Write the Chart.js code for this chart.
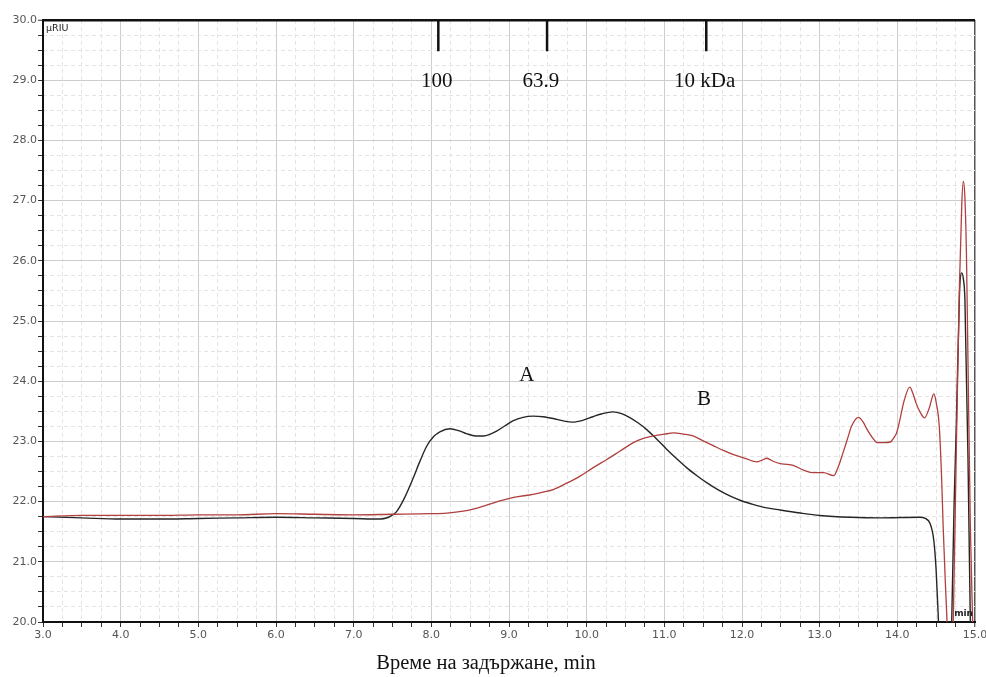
<!DOCTYPE html>
<html>
<head>
<meta charset="utf-8">
<script src="https://cdn.jsdelivr.net/npm/chart.js@4.4.1/dist/chart.umd.min.js"></script>
<style>
html,body{margin:0;padding:0;background:#fff;}
#wrap{position:relative;width:986px;height:677px;}
</style>
</head>
<body>
<div id="wrap"><canvas id="c" width="986" height="677"></canvas></div>
<script>
// ---- data ----
const xTicksMajor = [3,4,5,6,7,8,9,10,11,12,13,14,15];
const yTicksMajor = [20,21,22,23,24,25,26,27,28,29,30];

const timeA = [3.0,3.5,4.0,4.5,5.0,5.5,6.0,6.5,7.0,7.3,7.45,7.55,7.65,7.76,7.85,7.94,8.03,8.11,8.24,8.35,8.45,8.57,8.67,8.76,8.84,8.95,9.05,9.18,9.31,9.44,9.57,9.70,9.82,9.95,10.08,10.20,10.34,10.45,10.55,10.66,10.77,10.90,11.03,11.16,11.29,11.42,11.55,11.70,11.85,12.0,12.15,12.3,12.49,12.75,13.0,13.4,13.78,14.29,14.36,14.42,14.47,14.50,14.53,14.58,14.63,14.67,14.70,14.73,14.76,14.80,14.83,14.85,14.87,14.91,14.94,14.97,15.0];
const signalA = [21.75,21.73,21.71,21.71,21.72,21.73,21.74,21.73,21.72,21.71,21.74,21.83,22.05,22.37,22.66,22.92,23.08,23.16,23.21,23.18,23.13,23.09,23.09,23.12,23.17,23.26,23.34,23.40,23.42,23.41,23.38,23.34,23.32,23.35,23.41,23.46,23.49,23.46,23.40,23.31,23.20,23.04,22.87,22.71,22.56,22.43,22.31,22.19,22.09,22.01,21.95,21.90,21.86,21.81,21.77,21.74,21.73,21.74,21.72,21.64,21.35,20.85,20.0,18.5,18.2,18.8,20.0,21.9,23.3,25.45,25.80,25.70,25.36,22.70,20.0,18.5,18.0];

const timeB = [3.0,3.5,4.0,4.5,5.0,5.5,6.0,6.5,7.0,7.5,7.98,8.2,8.41,8.55,8.71,8.88,9.06,9.31,9.45,9.57,9.75,9.91,10.08,10.26,10.43,10.60,10.73,10.86,11.0,11.12,11.25,11.37,11.50,11.63,11.76,11.89,12.04,12.19,12.26,12.32,12.40,12.49,12.58,12.66,12.80,12.92,13.05,13.18,13.24,13.30,13.36,13.41,13.50,13.56,13.61,13.68,13.74,13.82,13.91,13.96,13.99,14.04,14.08,14.16,14.20,14.24,14.30,14.35,14.41,14.47,14.50,14.54,14.57,14.59,14.62,14.64,14.68,14.72,14.76,14.80,14.83,14.85,14.87,14.89,14.91,14.94,14.97,15.0];
const signalB = [21.75,21.77,21.77,21.77,21.78,21.78,21.80,21.79,21.78,21.79,21.80,21.81,21.84,21.88,21.94,22.01,22.07,22.12,22.16,22.20,22.31,22.42,22.56,22.70,22.84,22.98,23.05,23.09,23.12,23.14,23.12,23.09,23.01,22.93,22.85,22.78,22.72,22.66,22.69,22.72,22.67,22.63,22.62,22.60,22.52,22.48,22.48,22.43,22.58,22.81,23.05,23.25,23.40,23.32,23.20,23.06,22.98,22.98,22.99,23.07,23.14,23.40,23.64,23.90,23.80,23.64,23.47,23.39,23.55,23.79,23.65,23.25,22.40,21.59,20.6,20.0,18.5,20.0,22.9,25.6,26.95,27.32,27.05,26.1,24.3,21.6,20.0,18.5];

// molecular-weight calibration markers (retention time, label)
const markerTimes = [8.09, 9.49, 11.54];
const markerLabels = ['100', '63.9', '10 kDa'];
const markerLabelTimes = [8.07, 9.41, 11.52];
const markerTop = 30.0;
const markerBottom = 29.48;
const markerLabelY = 28.98;

// curve labels
const curveLabels = ['A', 'B'];
const curveLabelTimes = [9.23, 11.51];
const curveLabelY = [24.09, 23.70];

const xTitle = 'Време на задържане, min';
const yUnit = 'µRIU';
const xUnit = 'min';

// ---- build chart ----
const toPts = (xs, ys) => xs.map((x, i) => ({x: x, y: ys[i]}));
const isMajor = v => Math.abs(v - Math.round(v)) < 1e-6;

const datasets = [
  {label: 'B', data: toPts(timeB, signalB), borderColor: '#b0403e', borderWidth: 1.3, pointRadius: 0, cubicInterpolationMode: 'monotone', fill: false},
  {label: 'A', data: toPts(timeA, signalA), borderColor: '#262626', borderWidth: 1.4, pointRadius: 0, cubicInterpolationMode: 'monotone', fill: false}
];
markerTimes.forEach((t, i) => {
  datasets.push({label: 'm' + i, data: [{x: t, y: markerTop}, {x: t, y: markerBottom}], borderColor: '#111', borderWidth: 2.5, pointRadius: 0, tension: 0, fill: false});
});

const textPlugin = {
  id: 'texts',
  afterDatasetsDraw(chart) {
    const {ctx, scales: {x, y}, chartArea} = chart;
    ctx.save();
    ctx.fillStyle = '#111';
    ctx.textAlign = 'center';
    ctx.textBaseline = 'middle';
    ctx.font = '21px "Liberation Serif", "Times New Roman", serif';
    markerLabels.forEach((s, i) => ctx.fillText(s, x.getPixelForValue(markerLabelTimes[i]), y.getPixelForValue(markerLabelY)));
    curveLabels.forEach((s, i) => ctx.fillText(s, x.getPixelForValue(curveLabelTimes[i]), y.getPixelForValue(curveLabelY[i])));
    // x-axis title
    ctx.font = '20.5px "Liberation Serif", "Times New Roman", serif';
    ctx.fillText(xTitle, (chartArea.left + chartArea.right) / 2 - 23, chartArea.bottom + 42);
    ctx.font = '9.5px "DejaVu Sans", sans-serif';
    ctx.textAlign = 'left';
    ctx.textBaseline = 'top';
    ctx.fillStyle = '#222';
    ctx.fillText(yUnit, chartArea.left + 3, chartArea.top + 4);
    ctx.textAlign = 'right';
    ctx.textBaseline = 'bottom';
    ctx.font = 'bold 9px "DejaVu Sans", sans-serif';
    ctx.fillText(xUnit, chartArea.right - 2, chartArea.bottom - 4);
    ctx.restore();
  }
};

const tickFont = {family: '"DejaVu Sans", Verdana, sans-serif', size: 11};

new Chart(document.getElementById('c'), {
  type: 'line',
  data: {datasets: datasets},
  plugins: [textPlugin],
  options: {
    responsive: false,
    animation: false,
    events: [],
    layout: {padding: {left: 0, right: 11, top: 20, bottom: 0}},
    plugins: {legend: {display: false}, tooltip: {enabled: false}},
    scales: {
      x: {
        type: 'linear', position: 'bottom',
        min: xTicksMajor[0], max: xTicksMajor[xTicksMajor.length - 1],
        afterFit: s => { s.height = 55; s.paddingRight = 0; s.paddingLeft = 0; },
        ticks: {stepSize: 0.25, autoSkip: false, maxRotation: 0, padding: 2, color: '#555', font: tickFont,
          callback: v => isMajor(v) ? Number(v).toFixed(1) : ''},
        grid: {
          tickLength: 5, tickColor: '#333', tickWidth: 1,
          color: c => {
            const v = c.tick.value;
            if (Math.abs(v - 15) < 1e-6) return '#555';
            return isMajor(v) ? '#cdcdcd' : 'rgba(0,0,0,0)';
          },
          lineWidth: c => Math.abs(c.tick.value - 15) < 1e-6 ? 1.5 : 1
        },
        border: {display: true, color: '#111', width: 2}
      },
      xm: {
        type: 'linear', position: 'bottom',
        min: xTicksMajor[0], max: xTicksMajor[xTicksMajor.length - 1],
        afterFit: s => { s.height = 0; s.paddingRight = 0; s.paddingLeft = 0; },
        ticks: {display: false, stepSize: 0.25, autoSkip: false},
        grid: {drawTicks: false, color: c => isMajor(c.tick.value) ? 'rgba(0,0,0,0)' : '#e4e4e4', lineWidth: 1},
        border: {display: false, dash: [4, 3]}
      },
      y: {
        type: 'linear', position: 'left',
        min: yTicksMajor[0], max: yTicksMajor[yTicksMajor.length - 1],
        afterFit: s => { s.width = 43; },
        ticks: {stepSize: 0.25, autoSkip: false, padding: 1, color: '#555', font: tickFont,
          callback: v => isMajor(v) ? Number(v).toFixed(1) : ''},
        grid: {
          tickLength: 5, tickColor: '#333', tickWidth: 1,
          color: c => {
            const v = c.tick.value;
            if (Math.abs(v - 30) < 1e-6) return '#111';
            return isMajor(v) ? '#cdcdcd' : 'rgba(0,0,0,0)';
          },
          lineWidth: c => Math.abs(c.tick.value - 30) < 1e-6 ? 2.5 : 1
        },
        border: {display: true, color: '#111', width: 2}
      },
      ym: {
        type: 'linear', position: 'left',
        min: yTicksMajor[0], max: yTicksMajor[yTicksMajor.length - 1],
        afterFit: s => { s.width = 0; },
        ticks: {display: false, stepSize: 0.25, autoSkip: false},
        grid: {drawTicks: false, color: c => isMajor(c.tick.value) ? 'rgba(0,0,0,0)' : '#e4e4e4', lineWidth: 1},
        border: {display: false, dash: [4, 3]}
      }
    }
  }
});
</script>
</body>
</html>
